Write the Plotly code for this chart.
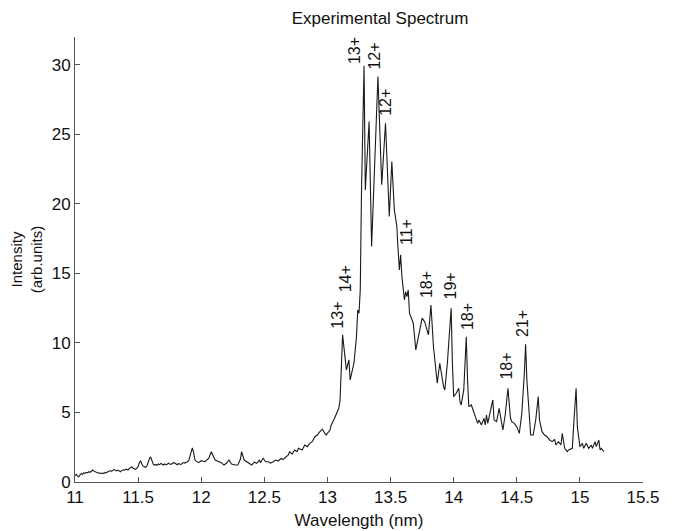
import plotly.graph_objects as go

# Wavelength (nm) and intensity (arb. units)
wavelength = [
    11.00, 11.01, 11.02, 11.03, 11.04, 11.05, 11.06, 11.07, 11.08, 11.09,
    11.10, 11.11, 11.12, 11.13, 11.14, 11.15, 11.16, 11.17, 11.18, 11.19,
    11.20, 11.21, 11.22, 11.23, 11.24, 11.25, 11.26, 11.27, 11.28, 11.29,
    11.30, 11.31, 11.32, 11.33, 11.34, 11.35, 11.36, 11.37, 11.38, 11.39,
    11.40, 11.41, 11.42, 11.43, 11.44, 11.45, 11.46, 11.47, 11.48, 11.49,
    11.50, 11.51, 11.52, 11.53, 11.54, 11.55, 11.56, 11.57, 11.58, 11.59,
    11.60, 11.61, 11.62, 11.63, 11.64, 11.65, 11.66, 11.67, 11.68, 11.69,
    11.70, 11.71, 11.72, 11.73, 11.74, 11.75, 11.76, 11.77, 11.78, 11.79,
    11.80, 11.81, 11.82, 11.83, 11.84, 11.85, 11.86, 11.87, 11.88, 11.89,
    11.90, 11.91, 11.92, 11.93, 11.94, 11.95, 11.96, 11.97,
    11.98, 12.00, 12.03, 12.06, 12.08, 12.11, 12.14, 12.16, 12.18, 12.20,
    12.22, 12.24, 12.27, 12.29, 12.31, 12.32, 12.34, 12.36, 12.38, 12.40,
    12.42, 12.44, 12.46, 12.47, 12.49, 12.51, 12.53, 12.55, 12.57, 12.59,
    12.61, 12.63, 12.65, 12.67, 12.69, 12.70, 12.72, 12.74, 12.76, 12.77,
    12.80, 12.82, 12.84, 12.86, 12.88, 12.90, 12.92, 12.94, 12.96, 12.98,
    12.99, 13.02, 13.03, 13.05, 13.07, 13.09, 13.10, 13.11, 13.12,
    13.15, 13.17, 13.18, 13.21, 13.23, 13.24, 13.25, 13.26, 13.27, 13.29,
    13.30, 13.33, 13.35, 13.37, 13.38, 13.40, 13.43, 13.46, 13.49, 13.51,
    13.53, 13.55, 13.555, 13.57, 13.58, 13.59, 13.61, 13.62, 13.63, 13.64,
    13.65, 13.68, 13.70, 13.72, 13.75, 13.77, 13.80, 13.82, 13.84, 13.87,
    13.89, 13.92, 13.93, 13.95, 13.98, 13.99, 14.00, 14.02, 14.04, 14.05,
    14.06, 14.08, 14.10, 14.11, 14.12, 14.14, 14.16, 14.18, 14.19, 14.20,
    14.22, 14.24, 14.25, 14.26, 14.27, 14.29, 14.31, 14.32, 14.34, 14.36,
    14.38, 14.39, 14.41, 14.43, 14.45, 14.46, 14.48, 14.50, 14.52, 14.54,
    14.56, 14.57, 14.58, 14.60, 14.61, 14.63, 14.65, 14.67, 14.68, 14.70,
    14.72, 14.74, 14.76, 14.78, 14.80, 14.81, 14.83, 14.85, 14.86, 14.88,
    14.90, 14.91, 14.94, 14.95, 14.97, 14.98, 15.00, 15.02, 15.03, 15.05,
    15.07, 15.09, 15.10, 15.12, 15.13, 15.15, 15.16, 15.17, 15.19,
]
intensity = [
    0.45, 0.55, 0.42, 0.38, 0.52, 0.60, 0.55, 0.67, 0.62, 0.70,
    0.66, 0.74, 0.70, 0.80, 0.86, 0.78, 0.72, 0.70, 0.67, 0.62,
    0.66, 0.60, 0.64, 0.62, 0.70, 0.66, 0.74, 0.78, 0.82, 0.76,
    0.85, 0.91, 0.84, 0.80, 0.86, 0.78, 0.74, 0.82, 0.88, 0.84,
    0.92, 0.91, 0.86, 0.96, 1.02, 1.10, 0.98, 0.94, 0.91, 1.00,
    1.12, 1.40, 1.53, 1.30, 1.14, 1.10, 1.06, 1.15, 1.40, 1.70,
    1.78, 1.45, 1.28, 1.22, 1.26, 1.20, 1.30, 1.25, 1.34, 1.28,
    1.22, 1.30, 1.24, 1.27, 1.35, 1.30, 1.26, 1.33, 1.39, 1.36,
    1.28, 1.24, 1.32, 1.29, 1.26, 1.34, 1.40, 1.36, 1.44, 1.46,
    1.52, 1.80, 2.25, 2.45, 2.10, 1.60, 1.50, 1.46,
    1.39, 1.53, 1.46, 1.71, 2.18, 1.58, 1.46, 1.39, 1.22, 1.35,
    1.58, 1.29, 1.22, 1.22, 1.63, 2.18, 1.58, 1.46, 1.35, 1.22,
    1.42, 1.35, 1.58, 1.39, 1.71, 1.46, 1.46, 1.35, 1.46, 1.58,
    1.51, 1.68, 1.63, 1.78, 1.94, 2.18, 2.01, 2.30, 2.18, 2.42,
    2.30, 2.66, 2.54, 2.78, 2.90, 3.26, 3.38, 3.62, 3.79, 3.50,
    3.38, 3.74, 4.10, 4.46, 4.82, 5.30, 5.90, 8.06, 10.58,
    8.06, 8.78, 7.34, 8.54, 10.45, 12.37, 12.14, 13.81, 21.0, 29.93,
    21.0, 25.92, 16.93, 22.45, 24.6, 29.16, 21.37, 25.8, 19.09, 23.04,
    19.57, 18.37, 17.41, 15.25, 16.33, 14.77, 13.09, 13.69, 13.33, 13.81,
    12.14, 11.42, 9.50, 10.34, 11.78, 11.53, 10.58, 12.73, 9.73, 7.10,
    8.54, 6.86, 6.62, 8.54, 12.50, 8.54, 6.14, 6.38, 6.74, 5.78,
    5.54, 6.62, 10.45, 7.34, 5.42, 5.54, 5.06, 4.58, 4.22, 4.46,
    4.10, 4.58, 4.10, 4.82, 4.22, 5.06, 5.90, 4.46, 4.34, 5.30,
    4.22, 3.74, 4.94, 6.74, 4.60, 4.34, 4.22, 3.98, 3.50, 4.94,
    7.82, 9.91, 7.34, 4.46, 3.38, 3.38, 4.46, 6.14, 4.46, 3.62,
    3.38, 3.26, 3.02, 2.90, 3.07, 2.66, 2.90, 2.66, 3.50, 2.42,
    2.18, 2.30, 2.42, 3.98, 6.74, 3.98, 2.54, 2.78, 2.42, 2.78,
    2.42, 2.66, 2.42, 2.90, 2.54, 3.02, 2.30, 2.42, 2.18,
]

# Charge-state labels
label_text = ["13+", "14+", "13+", "12+", "12+", "11+", "18+", "19+", "18+", "18+", "21+"]
label_x = [13.08, 13.15, 13.22, 13.37, 13.46, 13.625, 13.785, 13.975, 14.11, 14.42, 14.545]
label_y = [12.0, 14.6, 31.0, 30.6, 27.3, 18.0, 14.2, 14.1, 11.9, 8.35, 11.4]

x_ticks = [11, 11.5, 12, 12.5, 13, 13.5, 14, 14.5, 15, 15.5]
y_ticks = [0, 5, 10, 15, 20, 25, 30]

FONT = "Liberation Sans, Arial, Helvetica, sans-serif"

fig = go.Figure()
fig.add_trace(go.Scatter(
    x=wavelength, y=intensity, mode="lines",
    line=dict(color="#1a1a1a", width=1.1),
    showlegend=False, hoverinfo="skip",
))

for t, xv, yv in zip(label_text, label_x, label_y):
    fig.add_annotation(
        x=xv, y=yv, text=t, showarrow=False, textangle=-90,
        xanchor="center", yanchor="middle",
        font=dict(family=FONT, size=16, color="#111"),
    )

# page body has an 8px margin, so the figure is sized to fit the 674x531 window
fig.update_layout(
    width=666, height=523,
    margin=dict(l=67, r=31, t=29, b=49, autoexpand=False),
    paper_bgcolor="white", plot_bgcolor="white",
    font=dict(family=FONT, color="#111"),
    title=dict(text="Experimental Spectrum", xref="paper", x=0.537, xanchor="center",
               yref="container", y=1 - 10 / 523, yanchor="middle",
               font=dict(family=FONT, size=17, color="#111")),
)
fig.update_xaxes(
    range=[11, 15.5], tickvals=x_ticks, ticktext=[f"{v:g}" for v in x_ticks],
    showgrid=False, zeroline=False, showline=True, linecolor="#555", linewidth=1,
    ticks="inside", ticklen=5, tickcolor="#555", tickfont=dict(size=17),
    title=dict(text="Wavelength (nm)", font=dict(size=17), standoff=7),
)
fig.update_yaxes(
    range=[0, 32], tickvals=y_ticks, showgrid=False, zeroline=False,
    showline=True, linecolor="#555", linewidth=1,
    ticks="inside", ticklen=5, tickcolor="#555", tickfont=dict(size=17),
    title=dict(text="Intensity<br>(arb.units)", font=dict(size=15), standoff=6),
)

fig.write_html("out.html")
